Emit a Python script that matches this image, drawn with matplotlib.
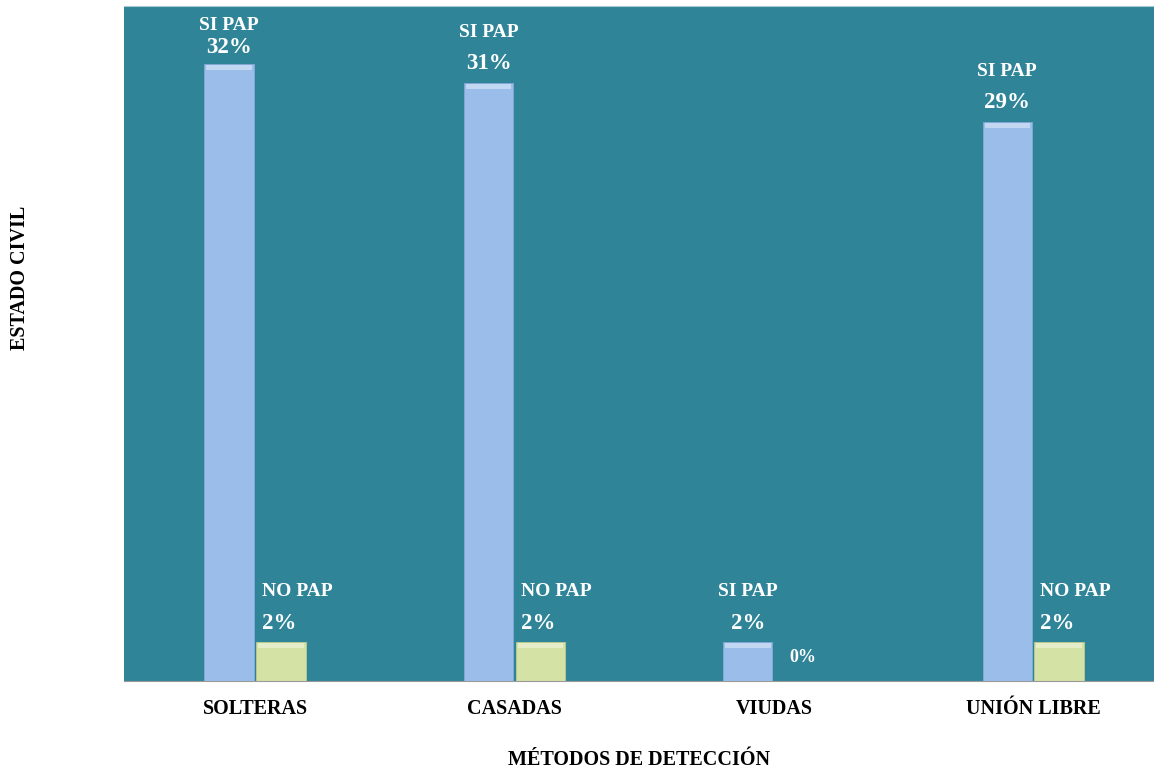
import matplotlib.pyplot as plt
import numpy as np

plt.rcParams['font.family'] = ['Liberation Serif', 'DejaVu Serif']

categorias = ['SOLTERAS', 'CASADAS', 'VIUDAS', 'UNIÓN LIBRE']
si_pap = [32, 31, 2, 29]
no_pap = [2, 2, 0, 2]
serie_nombres = ['SI PAP', 'NO PAP']

color_fondo = '#2f8597'
color_si = '#9bbdea'
color_no = '#d4e2a6'

Y_MAX = 35


def etiquetar(ax, x, valor, nombre, ha, dx):
    # puntos por unidad del eje y, para que el nombre no se salga por arriba
    pts = ax.get_window_extent().height / Y_MAX * 72 / fig.dpi
    dy_nombre = min(36.5, (Y_MAX - 1 - valor) * pts)
    dy_pct = min(14, dy_nombre - 16)
    ax.annotate('{}%'.format(valor), (x, valor), xytext=(dx, dy_pct), textcoords='offset points',
                ha=ha, va='center', color='white', fontsize=16.5, fontweight='bold')
    ax.annotate(nombre, (x, valor), xytext=(dx, dy_nombre), textcoords='offset points',
                ha=ha, va='center', color='white', fontsize=14, fontweight='bold')


fig = plt.figure(figsize=(11.54, 7.73), dpi=100)
ax = fig.add_axes([0.1075, 0.119, 0.8925, 0.873])
ax.set_facecolor(color_fondo)

x = np.arange(len(categorias))
ancho = 0.19
off = 0.1

barras_si = ax.bar(x - off, si_pap, ancho, color=color_si, edgecolor='#86a9d8', linewidth=0.6)
barras_no = ax.bar(x + off, no_pap, ancho, color=color_no, edgecolor='#bccb90', linewidth=0.6)

# brillo en la parte superior de cada barra
for b in list(barras_si) + list(barras_no):
    h = b.get_height()
    if h > 0:
        ax.bar(b.get_x() + b.get_width() / 2, 0.25, b.get_width() * 0.92, bottom=h - 0.3,
               color='white', alpha=0.4, linewidth=0)

ax.set_xlim(-0.505, 3.466)
ax.set_ylim(0, Y_MAX)

for i in range(len(categorias)):
    etiquetar(ax, x[i] - off, si_pap[i], serie_nombres[0], 'center', 0)
    if no_pap[i] > 0:
        etiquetar(ax, x[i] + off - ancho / 2, no_pap[i], serie_nombres[1], 'left', 4)
    else:
        ax.annotate('{}%'.format(no_pap[i]), (x[i] + off, no_pap[i]), xytext=(2, 17),
                    textcoords='offset points', ha='center', va='center', color='white',
                    fontsize=13, fontweight='bold')

ax.set_yticks([])
ax.set_xticks(x)
ax.set_xticklabels(categorias, fontsize=14.5, fontweight='bold')
ax.tick_params(axis='x', length=0, pad=13)

for s in ['left', 'right']:
    ax.spines[s].set_visible(False)
ax.spines['bottom'].set_color('#9a9a9a')
ax.spines['top'].set_color('#a9cdd6')

fig.text(0.5537, 1 - 760 / 773, 'MÉTODOS DE DETECCIÓN', ha='center', va='center',
         fontsize=14.5, fontweight='bold')
fig.text(20 / 1154, 1 - 278 / 773, 'ESTADO CIVIL', ha='center', va='center', rotation=90,
         fontsize=14.5, fontweight='bold')

fig.savefig('out.png', dpi=100, facecolor='white')
